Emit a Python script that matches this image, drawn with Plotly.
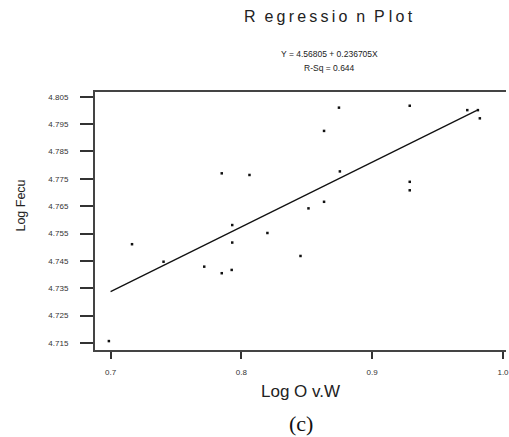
import plotly.graph_objects as go

# Data
log_ovw = [0.6987, 0.7164, 0.7405, 0.7716, 0.7850, 0.7926, 0.7850, 0.8062, 0.7930, 0.7930,
           0.8199, 0.8452, 0.8513, 0.8632, 0.8632, 0.8746, 0.8753, 0.9287, 0.9287, 0.9287,
           0.9727, 0.9808, 0.9823]
log_fecu = [4.7157, 4.7511, 4.7447, 4.7429, 4.7405, 4.7417, 4.7770, 4.7764, 4.7581, 4.7517,
            4.7552, 4.7468, 4.7642, 4.7666, 4.7925, 4.8010, 4.7777, 4.8017, 4.7739, 4.7708,
            4.8001, 4.8001, 4.7971]

intercept = 4.56805
slope = 0.236705
fit_x = [0.700, 0.980]
fit_y = [intercept + slope * v for v in fit_x]

y_ticks = [4.715, 4.725, 4.735, 4.745, 4.755, 4.765, 4.775, 4.785, 4.795, 4.805]
x_ticks = [0.7, 0.8, 0.9, 1.0]

W, H = 509, 437
L, R, T, B = 95, 0, 92, 87
pw = W - L - R
ph = H - T - B

def px(x):
    return (x - L) / pw

def py(y):
    return (H - B - y) / ph

fig = go.Figure()
fig.add_trace(go.Scatter(x=fit_x, y=fit_y, mode="lines",
                         line=dict(color="#111111", width=1.3), hoverinfo="skip"))
fig.add_trace(go.Scatter(x=log_ovw, y=log_fecu, mode="markers",
                         marker=dict(symbol="square", size=2.5, color="#111111",
                                     line=dict(width=0))))

axis_font = dict(family="Liberation Sans, Arial, sans-serif", size=8, color="#333333")
fig.update_xaxes(range=[0.6881, 1.0023], tickvals=x_ticks, ticktext=["0.7", "0.8", "0.9", "1.0"],
                 showline=True, linecolor="#444444", linewidth=2, mirror=True,
                 ticks="outside", ticklen=7, tickwidth=1.5, tickcolor="#333333",
                 showgrid=False, zeroline=False, tickfont=axis_font, ticklabelstandoff=6,
                 ticklabeloverflow="allow")
fig.update_yaxes(range=[4.71244, 4.80672], tickvals=y_ticks,
                 ticktext=[f"{v:.3f}" for v in y_ticks],
                 showline=True, linecolor="#444444", linewidth=2, mirror=False,
                 ticks="outside", ticklen=13, tickwidth=1.5, tickcolor="#333333",
                 showgrid=False, zeroline=False, tickfont=axis_font, ticklabelstandoff=10)

ts = "\u2009"
title_txt = "R" + "  " + ts.join("egressio") + "  n  " + "P" + " " + ts.join("lot")
ann = [
    dict(text=title_txt, x=px(330), y=py(17),
         font=dict(family="Liberation Sans, Arial", size=16, color="#222222")),
    dict(text="Y = 4.56805 + 0.236705X", x=px(331), y=py(54),
         font=dict(family="Liberation Sans, Arial", size=8.5, color="#222222")),
    dict(text="R-Sq = 0.644", x=px(331), y=py(68),
         font=dict(family="Liberation Sans, Arial", size=8.5, color="#222222")),
    dict(text="Log Fecu", x=px(20), y=py(206), textangle=-90,
         font=dict(family="Liberation Sans, Arial", size=12.5, color="#222222")),
    dict(text="Log O v.W", x=px(302), y=py(391),
         font=dict(family="Liberation Sans, Arial", size=17, color="#222222")),
    dict(text="(c)", x=px(302), y=py(423),
         font=dict(family="Liberation Serif, Times New Roman, serif", size=22, color="#111111")),
]
for a in ann:
    fig.add_annotation(xref="paper", yref="paper", showarrow=False,
                       xanchor="center", yanchor="middle", **a)

fig.update_layout(width=W, height=H, margin=dict(l=L, r=R, t=T, b=B),
                  paper_bgcolor="white", plot_bgcolor="white", showlegend=False)

fig.write_html("out.html")
